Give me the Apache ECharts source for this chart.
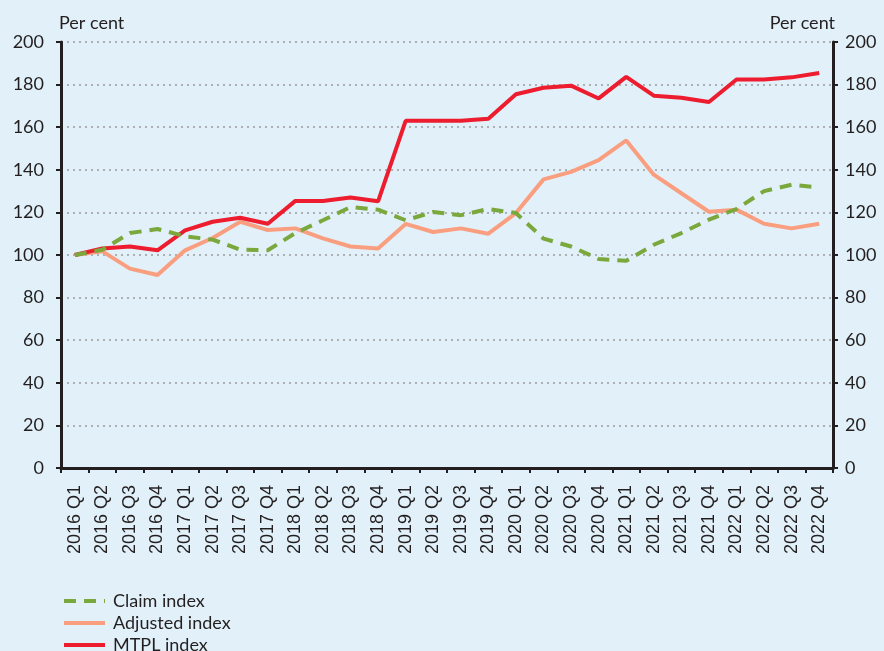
<!DOCTYPE html>
<html>
<head>
<meta charset="utf-8">
<script src="https://cdn.jsdelivr.net/npm/echarts@6/dist/echarts.min.js"></script>
<style>
html,body{margin:0;padding:0;background:#e2f1f9;}
#chart{width:884px;height:651px;}
</style>
</head>
<body>
<div id="chart"></div>
<script>
var categories = ['2016 Q1','2016 Q2','2016 Q3','2016 Q4','2017 Q1','2017 Q2','2017 Q3','2017 Q4',
  '2018 Q1','2018 Q2','2018 Q3','2018 Q4','2019 Q1','2019 Q2','2019 Q3','2019 Q4',
  '2020 Q1','2020 Q2','2020 Q3','2020 Q4','2021 Q1','2021 Q2','2021 Q3','2021 Q4',
  '2022 Q1','2022 Q2','2022 Q3','2022 Q4'];
var claimIndex = [100,102.5,110.3,112.2,108.8,107.2,102.5,102.2,110.3,116.3,122.5,121.3,116.3,120.2,
  118.7,121.6,119.7,107.7,104,98.1,97.3,104.8,110.3,116.6,121.6,130,133,131.7];
var adjustedIndex = [100,101.7,93.6,90.6,102.2,108,115.6,111.7,112.5,107.8,104,103,114.6,110.8,
  112.5,110,119.7,135.5,139,144.5,153.8,137.7,129,120.3,121.3,114.7,112.5,114.7];
var mtplIndex = [100,103.1,104,102.2,111.6,115.6,117.5,114.7,125.4,125.4,127,125.2,163,163,
  163,164,175.5,178.5,179.5,173.5,183.6,174.8,173.8,171.8,182.4,182.4,183.4,185.4];
var yTicks = {min:0, max:200, interval:20};

var chart = echarts.init(document.getElementById('chart'));
var calibri = 'Lato, "Open Sans", sans-serif';
var axisCommon = {
  type:'value', min:yTicks.min, max:yTicks.max, interval:yTicks.interval,
  axisLine:{show:true, lineStyle:{color:'#231f20', width:3}},
  axisTick:{show:true, length:5, lineStyle:{color:'#231f20', width:2}},
  nameLocation:'end', nameGap:10
};
chart.setOption({
  backgroundColor:'#e2f1f9',
  animation:false,
  grid:{left:61, right:51, top:42, bottom:183, containLabel:false},
  legend:{
    orient:'vertical', left:57, top:587, itemWidth:41, itemHeight:14, itemGap:4,
    height:80,
    data:['Claim index','Adjusted index','MTPL index'],
    itemStyle:{opacity:0},
    lineStyle:{width:4},
    textStyle:{fontFamily:calibri, fontSize:18, color:'#231f20', lineHeight:18, padding:[0,0,0,3]}
  },
  xAxis:{
    type:'category', data:categories, boundaryGap:true,
    axisLine:{lineStyle:{color:'#231f20', width:3}},
    axisTick:{show:true, length:5, interval:0, lineStyle:{color:'#231f20', width:2}},
    axisLabel:{rotate:90, interval:0, margin:17, fontFamily:'"Liberation Sans", Arial, sans-serif', fontSize:18, color:'#231f20'}
  },
  yAxis:[
    Object.assign({}, axisCommon, {
      position:'left', name:'Per cent',
      nameTextStyle:{fontFamily:calibri, fontSize:18, color:'#231f20', align:'left', padding:[0,0,0,-2]},
      axisLabel:{margin:17, fontFamily:calibri, fontSize:18, color:'#231f20'},
      splitLine:{show:true, lineStyle:{color:'#9a9a9a', width:1.5, type:[2,4]}}
    }),
    Object.assign({}, axisCommon, {
      position:'right', name:'Per cent',
      nameTextStyle:{fontFamily:calibri, fontSize:18, color:'#231f20', align:'right', padding:[0,-2,0,0]},
      axisLabel:{margin:12, fontFamily:calibri, fontSize:18, color:'#231f20'},
      splitLine:{show:false}
    })
  ],
  series:[
    {name:'Adjusted index', type:'line', data:adjustedIndex, symbol:'none', yAxisIndex:0,
      lineStyle:{color:'#f99f80', width:4}, itemStyle:{color:'#f99f80'}},
    {name:'MTPL index', type:'line', data:mtplIndex, symbol:'none', yAxisIndex:0,
      lineStyle:{color:'#ed1c2e', width:4}, itemStyle:{color:'#ed1c2e'}},
    {name:'Claim index', type:'line', data:claimIndex, symbol:'none', yAxisIndex:0,
      lineStyle:{color:'#7aa83c', width:4, type:[12,8]}, itemStyle:{color:'#7aa83c'}}
  ]
});
</script>
</body>
</html>
